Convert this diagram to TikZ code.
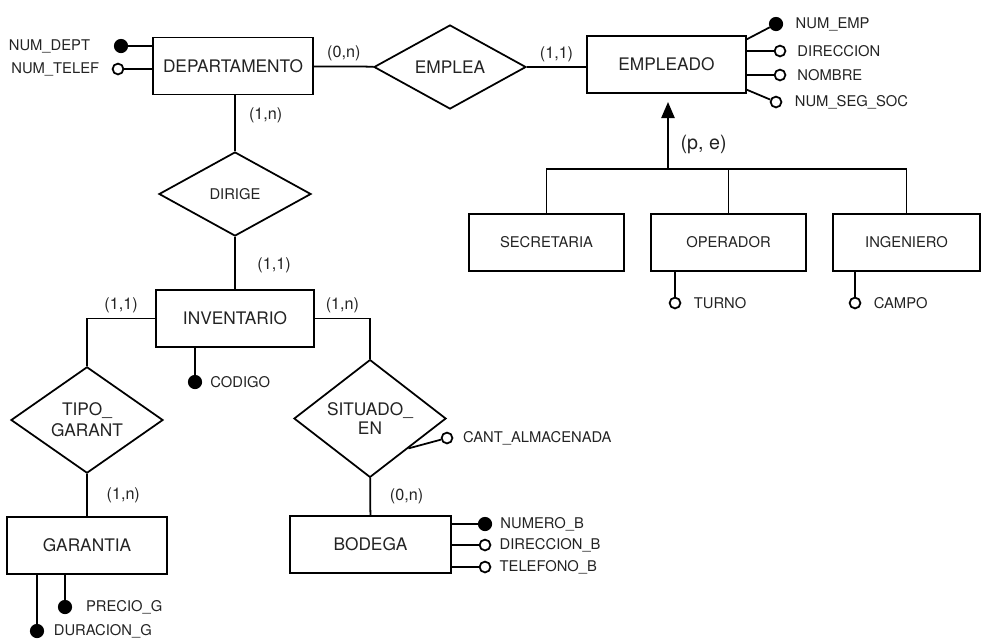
\documentclass[tikz,border=0pt]{standalone}
\usepackage{fontspec}
\setmainfont{TeX Gyre Heros}
\usetikzlibrary{positioning, arrows.meta, shapes.geometric}
\definecolor{cText}{RGB}{35, 35, 35}

\begin{document}
\begin{tikzpicture}[
    x=0.025cm, y=-0.025cm,
    line width=1.25pt,
    text=cText,
    entity/.style={draw, rectangle, minimum height=1.43cm, font=\fontsize{12.3}{14}\selectfont},
    relation/.style={draw, diamond, inner sep=0pt, minimum width=3.8cm, minimum height=2.1cm, align=center, font=\fontsize{12.3}{14}\selectfont},
    keyattr/.style={circle, draw, fill=black, inner sep=0pt, minimum size=0.31cm},
    attr/.style={circle, draw, fill=white, inner sep=0pt, minimum size=0.27cm},
    attrtext/.style={font=\fontsize{10.5}{12}\selectfont},
    card/.style={font=\fontsize{11.5}{13}\selectfont}
]
    \useasboundingbox (0,0) rectangle (990,641);

    % --- Entitaeten ---
    \node (dept) [entity, minimum width=4cm] at (233,66) {DEPARTAMENTO};
    \node (empleado) [entity, minimum width=3.975cm] at (666.5,64.5) {EMPLEADO};
    \node (inventario) [entity, minimum width=3.95cm] at (235,318.5) {INVENTARIO};
    \node (garantia) [entity, minimum width=4cm] at (87,545.5) {GARANTIA};
    \node (bodega) [entity, minimum width=4.025cm] at (370.5,544.5) {BODEGA};

    % Subklassen von EMPLEADO
    \node (secretaria) [entity, minimum width=3.875cm, font=\fontsize{10.5}{12}\selectfont] at (546.5,242.5) {SECRETARIA};
    \node (operador) [entity, minimum width=3.875cm, font=\fontsize{10.5}{12}\selectfont] at (728.5,242.5) {OPERADOR};
    \node (ingeniero) [entity, minimum width=3.675cm, font=\fontsize{10.5}{12}\selectfont] at (906.5,242.5) {INGENIERO};

    % --- Beziehungen ---
    \node (emplea) [relation] at (450,67) {EMPLEA};
    \node (dirige) [relation, font=\fontsize{10.5}{12}\selectfont] at (235,194) {DIRIGE};
    \node (tipo) [relation, font=\fontsize{12.3}{15}\selectfont] at (87,420) {TIPO\_\\GARANT};
    \node (situado) [relation, font=\fontsize{12.3}{13.5}\selectfont] at (370,418.5) {SITUADO\_\\EN};

    % --- Verbindungen mit Kardinalitaeten ---
    \draw (dept) -- node[card, above] {(0,n)} (emplea);
    \draw (emplea.east) -- node[card, above] {(1,1)} (emplea.east -| empleado.west);
    \draw (dirige.north |- dept.south) -- node[card, pos=0.35, right=6pt] {(1,n)} (dirige.north);
    \draw (dirige) -- node[card, pos=0.54, right=12pt] {(1,1)} (inventario);
    \draw (inventario.west) -| node[card, pos=0.25, above] {(1,1)} (tipo.north);
    \draw (inventario.east) -| node[card, pos=0.25, above] {(1,n)} (situado.north);
    \draw (tipo) -- node[card, right=10pt] {(1,n)} (garantia);
    \draw (situado) -- node[card, right=10pt] {(0,n)} (bodega);

    % --- Generalisierung (p, e) ---
    \coordinate (isa) at (668,169);
    \draw[-{Triangle[length=0.4cm, width=0.33cm]}, shorten >=0.2cm] (isa) -- node[pos=0.33, right=5pt, font=\fontsize{14}{16}\selectfont] {(p, e)} (isa |- empleado.south);
    \draw (secretaria.north) |- (ingeniero.north |- isa) -- (ingeniero.north);
    \draw (operador.north) -- (operador.north |- isa);

    % --- Attribute DEPARTAMENTO ---
    \node (numdept) [keyattr, label={[attrtext, label distance=13pt]left:NUM\_DEPT}] at (121,46) {};
    \node (numtelef) [attr, label={[attrtext, label distance=5pt]left:NUM\_TELEF}] at (118,69) {};
    \draw (numdept) -- (numdept -| dept.west);
    \draw (numtelef) -- (numtelef -| dept.west);

    % --- Attribute EMPLEADO ---
    \node (numemp) [keyattr, label={[attrtext, label distance=5pt]right:NUM\_EMP}] at (776,24) {};
    \node (direccion) [attr, label={[attrtext, label distance=4pt]right:DIRECCION}] at (780,51) {};
    \node (nombre) [attr, label={[attrtext, label distance=4pt]right:NOMBRE}] at (780,75) {};
    \node (numseg) [attr, label={[attrtext, label distance=5pt]right:NUM\_SEG\_SOC}] at (776,102) {};
    \draw (numemp) -- ([yshift=-3pt]empleado.north east);
    \draw (direccion) -- (direccion -| empleado.east);
    \draw (nombre) -- (nombre -| empleado.east);
    \draw (numseg) -- ([yshift=3pt]empleado.south east);

    % --- Attribute Subklassen ---
    \node (turno) [attr, label={[attrtext, label distance=5pt]right:TURNO}] at (675,303) {};
    \node (campo) [attr, label={[attrtext, label distance=5pt]right:CAMPO}] at (855,303) {};
    \draw (turno) -- (turno |- operador.south);
    \draw (campo) -- (campo |- ingeniero.south);

    % --- Attribute INVENTARIO, GARANTIA ---
    \node (codigo) [keyattr, label={[attrtext, label distance=2pt]right:CODIGO}] at (195,382) {};
    \draw (codigo) -- (codigo |- inventario.south);
    \node (precio) [keyattr, label={[attrtext, label distance=6pt]right:PRECIO\_G}] at (65,607) {};
    \node (duracion) [keyattr, label={[attrtext, label distance=3pt]right:DURACION\_G}] at (37,631) {};
    \draw (precio) -- (precio |- garantia.south);
    \draw (duracion) -- (duracion |- garantia.south);

    % --- Attribute SITUADO_EN, BODEGA ---
    \node (cant) [attr, label={[attrtext, label distance=3pt]right:CANT\_ALMACENADA}] at (447,438) {};
    \draw (cant) -- (situado.south east);
    \node (numerob) [keyattr, label={[attrtext, label distance=2pt]right:NUMERO\_B}] at (485,524) {};
    \node (direccionb) [attr, label={[attrtext, label distance=2pt]right:DIRECCION\_B}] at (485,545) {};
    \node (telefonob) [attr, label={[attrtext, label distance=2pt]right:TELEFONO\_B}] at (485,567) {};
    \draw (numerob) -- (numerob -| bodega.east);
    \draw (direccionb) -- (direccionb -| bodega.east);
    \draw (telefonob) -- (telefonob -| bodega.east);

\end{tikzpicture}
\end{document}
